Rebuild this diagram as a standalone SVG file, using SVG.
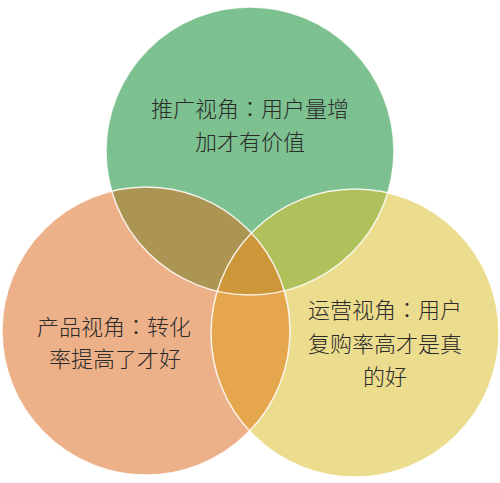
<svg xmlns="http://www.w3.org/2000/svg" width="500" height="483" viewBox="0 0 500 483">
<style>
.lbl{font-family:"Noto Sans CJK SC","Noto Sans",sans-serif;font-size:22px;fill:#2b2b2b;text-anchor:middle;dominant-baseline:central;font-weight:300}
.col{font-family:"Noto Sans CJK TC","Noto Sans CJK SC",sans-serif}
.edge{fill:none;stroke:#ffffff;stroke-width:1.5;stroke-opacity:0.85}
</style>
<defs>
<clipPath id="cG"><circle cx="250" cy="151" r="144"/></clipPath>
<clipPath id="cO"><circle cx="146" cy="331" r="144"/></clipPath>
<clipPath id="cY"><circle cx="355" cy="333" r="144"/></clipPath>
</defs>
<rect width="500" height="483" fill="#ffffff"/>
<g id="promotion">
<circle cx="250" cy="151" r="144" fill="#7dc190"/>
</g>
<g id="product">
<circle cx="146" cy="331" r="144" fill="#edb189"/>
</g>
<g id="operation">
<circle cx="355" cy="333" r="144" fill="#ebdc8e"/>
</g>
<g id="overlaps">
<g clip-path="url(#cG)"><circle cx="146" cy="331" r="144" fill="#ac9553"/></g>
<g clip-path="url(#cG)"><circle cx="355" cy="333" r="144" fill="#b0c15c"/></g>
<g clip-path="url(#cO)"><circle cx="355" cy="333" r="144" fill="#e6a64e"/></g>
<g clip-path="url(#cO)"><g clip-path="url(#cY)"><circle cx="250" cy="151" r="144" fill="#cc9639"/></g></g>
</g>
<g id="outlines">
<circle class="edge" cx="250" cy="151" r="144"/>
<circle class="edge" cx="146" cy="331" r="144"/>
<circle class="edge" cx="355" cy="333" r="144"/>
</g>
<g id="labels">
<text class="lbl" x="250" y="107">推广视角<tspan class="col">：</tspan>用户量增</text>
<text class="lbl" x="250" y="140">加才有价值</text>
<text class="lbl" x="114" y="325">产品视角<tspan class="col">：</tspan>转化</text>
<text class="lbl" x="115" y="357">率提高了才好</text>
<text class="lbl" x="385" y="308">运营视角<tspan class="col">：</tspan>用户</text>
<text class="lbl" x="385" y="342">复购率高才是真</text>
<text class="lbl" x="385" y="375">的好</text>
</g>
</svg>
